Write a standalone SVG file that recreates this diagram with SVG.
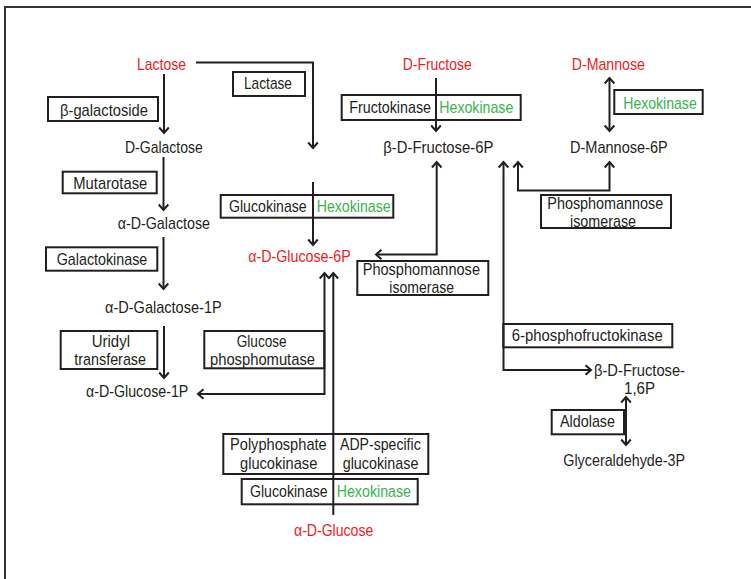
<svg xmlns="http://www.w3.org/2000/svg" width="751" height="579" viewBox="0 0 751 579">
<defs>
<marker id="ah" markerUnits="userSpaceOnUse" markerWidth="14" markerHeight="14" viewBox="-8 -7 10 14" refX="0" refY="0" orient="auto-start-reverse">
<path d="M-5.5,-4.8 L0,0 L-5.5,4.8" fill="none" stroke="#231f20" stroke-width="2"/>
</marker>
</defs>
<style>
text{font-family:"Liberation Sans","DejaVu Sans",sans-serif;font-size:17px;fill:#231f20}
.r{fill:#ed1c24}
.g{fill:#39b54a}
.box{fill:none;stroke:#231f20;stroke-width:2}
.ln{fill:none;stroke:#231f20;stroke-width:2}
</style>
<rect width="751" height="579" fill="#fff"/>
<rect x="5" y="7" width="800" height="620" fill="none" stroke="#333" stroke-width="2"/>

<g id="connectors">
<path class="ln" d="M164,74 V133" marker-end="url(#ah)"/>
<path class="ln" d="M196,62.5 H313 V148" marker-end="url(#ah)"/>
<path class="ln" d="M313,182 V245" marker-end="url(#ah)"/>
<path class="ln" d="M163.5,157 V210" marker-end="url(#ah)"/>
<path class="ln" d="M163.5,237 V289" marker-end="url(#ah)"/>
<path class="ln" d="M164,326 V378" marker-end="url(#ah)"/>
<path class="ln" d="M198,394 H324.5 V273" marker-start="url(#ah)" marker-end="url(#ah)"/>
<path class="ln" d="M333.3,515 V273" marker-end="url(#ah)"/>
<path class="ln" d="M436,78 V131" marker-end="url(#ah)"/>
<path class="ln" d="M609.5,78 V131" marker-start="url(#ah)" marker-end="url(#ah)"/>
<path class="ln" d="M376,254.5 H436.7 V162" marker-start="url(#ah)" marker-end="url(#ah)"/>
<path class="ln" d="M503.5,162 V370 H591" marker-start="url(#ah)" marker-end="url(#ah)"/>
<path class="ln" d="M518,162 V190.5 H609.5 V162" marker-start="url(#ah)" marker-end="url(#ah)"/>
<path class="ln" d="M626,397 V445" marker-start="url(#ah)" marker-end="url(#ah)"/>
</g>

<g id="lactose"><text class="r" x="137" y="70" textLength="49" lengthAdjust="spacingAndGlyphs">Lactose</text></g>
<g id="lactase"><rect class="box" x="233" y="72" width="72" height="24"/><text x="244" y="89" textLength="48" lengthAdjust="spacingAndGlyphs">Lactase</text></g>
<g id="b-galactoside"><rect class="box" x="48" y="97" width="110" height="24"/><text x="60" y="115.5" textLength="88" lengthAdjust="spacingAndGlyphs">β-galactoside</text></g>
<g id="d-galactose"><text x="125" y="153" textLength="77.7" lengthAdjust="spacingAndGlyphs">D-Galactose</text></g>
<g id="mutarotase"><rect class="box" x="62.7" y="171.7" width="94" height="21.6"/><text x="73.3" y="189" textLength="74" lengthAdjust="spacingAndGlyphs">Mutarotase</text></g>
<g id="a-d-galactose"><text x="117.7" y="229" textLength="92.3" lengthAdjust="spacingAndGlyphs">α-D-Galactose</text></g>
<g id="galactokinase"><rect class="box" x="46" y="247.3" width="111.3" height="23.4"/><text x="56.7" y="265" textLength="90.6" lengthAdjust="spacingAndGlyphs">Galactokinase</text></g>
<g id="a-d-galactose-1p"><text x="105" y="313.3" textLength="116.7" lengthAdjust="spacingAndGlyphs">α-D-Galactose-1P</text></g>
<g id="uridyl-transferase"><rect class="box" x="60.7" y="331" width="96.6" height="38"/><text x="91.7" y="346.7" textLength="38.3" lengthAdjust="spacingAndGlyphs">Uridyl</text><text x="74.3" y="365" textLength="71.7" lengthAdjust="spacingAndGlyphs">transferase</text></g>
<g id="a-d-glucose-1p"><text x="86" y="396.7" textLength="102.3" lengthAdjust="spacingAndGlyphs">α-D-Glucose-1P</text></g>
<g id="glucose-phosphomutase"><rect class="box" x="204.3" y="331" width="120" height="37.3"/><text x="236.7" y="346.7" textLength="50" lengthAdjust="spacingAndGlyphs">Glucose</text><text x="210" y="365" textLength="105" lengthAdjust="spacingAndGlyphs">phosphomutase</text></g>
<g id="glucokinase-hexokinase-1"><rect class="box" x="220.7" y="195" width="172.6" height="22.7"/><text x="229" y="212.3" textLength="77.7" lengthAdjust="spacingAndGlyphs">Glucokinase</text><text class="g" x="316.7" y="212.3" textLength="74" lengthAdjust="spacingAndGlyphs">Hexokinase</text></g>
<g id="a-d-glucose-6p"><text class="r" x="248.3" y="261.7" textLength="102.4" lengthAdjust="spacingAndGlyphs">α-D-Glucose-6P</text></g>
<g id="d-fructose"><text class="r" x="402.7" y="70" textLength="69" lengthAdjust="spacingAndGlyphs">D-Fructose</text></g>
<g id="fructokinase-hexokinase"><rect class="box" x="341.7" y="95" width="179" height="25"/><text x="349.3" y="113.3" textLength="81.7" lengthAdjust="spacingAndGlyphs">Fructokinase</text><text class="g" x="439.3" y="113.3" textLength="74" lengthAdjust="spacingAndGlyphs">Hexokinase</text></g>
<g id="b-d-fructose-6p"><text x="383.3" y="153.3" textLength="110" lengthAdjust="spacingAndGlyphs">β-D-Fructose-6P</text></g>
<g id="d-mannose"><text class="r" x="571.7" y="70" textLength="73.3" lengthAdjust="spacingAndGlyphs">D-Mannose</text></g>
<g id="hexokinase-mannose"><rect class="box" x="614.3" y="90" width="88.4" height="24"/><text class="g" x="623.3" y="109.3" textLength="73.4" lengthAdjust="spacingAndGlyphs">Hexokinase</text></g>
<g id="d-mannose-6p"><text x="570" y="153.3" textLength="97.7" lengthAdjust="spacingAndGlyphs">D-Mannose-6P</text></g>
<g id="phosphomannose-isomerase-1"><rect class="box" x="541" y="195" width="130" height="33"/><text x="547.3" y="208.5" textLength="116" lengthAdjust="spacingAndGlyphs">Phosphomannose</text><text x="570" y="226.8" textLength="66" lengthAdjust="spacingAndGlyphs">isomerase</text></g>
<g id="phosphomannose-isomerase-2"><rect class="box" x="357.3" y="261" width="131" height="34"/><text x="362.7" y="275" textLength="117.3" lengthAdjust="spacingAndGlyphs">Phosphomannose</text><text x="389.3" y="293.3" textLength="64.7" lengthAdjust="spacingAndGlyphs">isomerase</text></g>
<g id="phosphofructokinase"><rect class="box" x="503.3" y="324" width="169" height="23.3"/><text x="511.7" y="341" textLength="151" lengthAdjust="spacingAndGlyphs">6-phosphofructokinase</text></g>
<g id="b-d-fructose-16p"><text x="594" y="375.5" textLength="91" lengthAdjust="spacingAndGlyphs">β-D-Fructose-</text><text x="624" y="393.8" textLength="31" lengthAdjust="spacingAndGlyphs">1,6P</text></g>
<g id="aldolase"><rect class="box" x="551.7" y="410" width="72.3" height="24.3"/><text x="560" y="426.7" textLength="55" lengthAdjust="spacingAndGlyphs">Aldolase</text></g>
<g id="glyceraldehyde-3p"><text x="563.3" y="466" textLength="121.7" lengthAdjust="spacingAndGlyphs">Glyceraldehyde-3P</text></g>
<g id="polyphosphate-adp-glucokinase"><rect class="box" x="223.3" y="434" width="205" height="40"/><text x="230" y="450" textLength="96.7" lengthAdjust="spacingAndGlyphs">Polyphosphate</text><text x="240" y="469.3" textLength="77.3" lengthAdjust="spacingAndGlyphs">glucokinase</text><text x="340" y="450" textLength="80.7" lengthAdjust="spacingAndGlyphs">ADP-specific</text><text x="342.7" y="469.3" textLength="75.7" lengthAdjust="spacingAndGlyphs">glucokinase</text></g>
<g id="glucokinase-hexokinase-2"><rect class="box" x="241.7" y="479" width="176" height="25.3"/><text x="250" y="496.7" textLength="77.7" lengthAdjust="spacingAndGlyphs">Glucokinase</text><text class="g" x="336.7" y="496.7" textLength="74.3" lengthAdjust="spacingAndGlyphs">Hexokinase</text></g>
<g id="a-d-glucose"><text class="r" x="294" y="536" textLength="79.3" lengthAdjust="spacingAndGlyphs">α-D-Glucose</text></g>
</svg>
